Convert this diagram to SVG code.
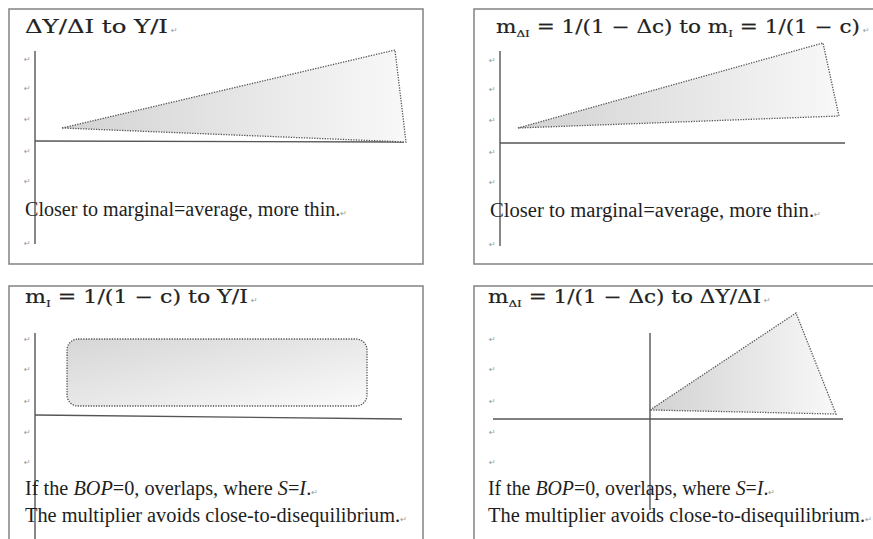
<svg xmlns="http://www.w3.org/2000/svg" width="873" height="539" viewBox="0 0 873 539">
<style>
.frame{fill:#fff;stroke:#8a8a8a;stroke-width:1.6}
.axis{stroke:#555;stroke-width:1.4;fill:none}
.shape{stroke:#555;stroke-width:1.3;stroke-dasharray:1.3 1.3}
.title{font-family:"DejaVu Serif","Liberation Serif",serif;font-size:18px;fill:#222;stroke:#222;stroke-width:0.2}
.sub{font-size:10px}
.body{font-family:"Liberation Serif",serif;font-size:20px;fill:#1e1e1e}
.ret{font-family:"DejaVu Sans",sans-serif;font-size:8px;fill:#999;stroke:none}
</style>
<defs>
<linearGradient id="g1" x1="0" y1="0" x2="1" y2="0">
<stop offset="0" stop-color="#d2d2d2"/>
<stop offset="1" stop-color="#f8f8f8"/>
</linearGradient>
<linearGradient id="g2" x1="0" y1="0" x2="1" y2="1">
<stop offset="0" stop-color="#d6d6d6"/>
<stop offset="1" stop-color="#fafafa"/>
</linearGradient>
</defs>
<rect width="873" height="539" fill="#fff"/>

<g id="panel1">
<rect class="frame" x="9" y="9" width="414" height="255"/>
<text class="title" x="25" y="33" textLength="143" lengthAdjust="spacingAndGlyphs">ΔY/ΔI to Y/I</text>
<text class="ret" x="171" y="33">↵</text>
<line class="axis" x1="35" y1="51" x2="35" y2="244"/>
<line class="axis" x1="35" y1="141" x2="404" y2="142"/>
<polygon class="shape" fill="url(#g1)" points="62,128 395,50 406,142"/>
<g class="ret"><text x="24" y="62">↵</text><text x="24" y="91">↵</text><text x="24" y="122">↵</text><text x="24" y="154">↵</text><text x="24" y="184">↵</text><text x="24" y="246">↵</text></g>
<text class="body" x="25" y="216" textLength="322" lengthAdjust="spacingAndGlyphs">Closer to marginal=average, more thin.<tspan class="ret">↵</tspan></text>
</g>

<g id="panel2">
<rect class="frame" x="474" y="9" width="410" height="255"/>
<text class="title" x="496" y="33" textLength="364" lengthAdjust="spacingAndGlyphs">m<tspan class="sub" dy="4">ΔI</tspan><tspan dy="-4"> = 1/(1 − Δc) to m</tspan><tspan class="sub" dy="4">I</tspan><tspan dy="-4"> = 1/(1 − c)</tspan></text>
<text class="ret" x="863" y="33">↵</text>
<line class="axis" x1="500" y1="51" x2="500" y2="246"/>
<line class="axis" x1="500" y1="143" x2="845" y2="143"/>
<polygon class="shape" fill="url(#g1)" points="518,128 823,43 839,116"/>
<g class="ret"><text x="489" y="63">↵</text><text x="489" y="92">↵</text><text x="489" y="123">↵</text><text x="489" y="155">↵</text><text x="489" y="185">↵</text><text x="489" y="247">↵</text></g>
<text class="body" x="490" y="217" textLength="331" lengthAdjust="spacingAndGlyphs">Closer to marginal=average, more thin.<tspan class="ret">↵</tspan></text>
</g>

<g id="panel3">
<rect class="frame" x="9" y="286" width="414" height="270"/>
<text class="title" x="25" y="303" textLength="223" lengthAdjust="spacingAndGlyphs">m<tspan class="sub" dy="4">I</tspan><tspan dy="-4"> = 1/(1 − c) to Y/I</tspan></text>
<text class="ret" x="251" y="303">↵</text>
<line class="axis" x1="35" y1="333" x2="35" y2="539"/>
<line class="axis" x1="35" y1="415" x2="402" y2="419"/>
<rect class="shape" fill="url(#g2)" x="67" y="339" width="300" height="67" rx="11"/>
<g class="ret"><text x="24" y="342">↵</text><text x="24" y="372">↵</text><text x="24" y="404">↵</text><text x="24" y="435">↵</text><text x="24" y="465">↵</text></g>
<text class="body" x="25" y="495" textLength="293" lengthAdjust="spacingAndGlyphs">If the <tspan font-style="italic">BOP</tspan>=0, overlaps, where <tspan font-style="italic">S</tspan>=<tspan font-style="italic">I</tspan>.<tspan class="ret">↵</tspan></text>
<text class="body" x="25" y="522" textLength="382" lengthAdjust="spacingAndGlyphs">The multiplier avoids close-to-disequilibrium.<tspan class="ret">↵</tspan></text>
</g>

<g id="panel4">
<rect class="frame" x="474" y="286" width="410" height="270"/>
<text class="title" x="488" y="303" textLength="273" lengthAdjust="spacingAndGlyphs">m<tspan class="sub" dy="4">ΔI</tspan><tspan dy="-4"> = 1/(1 − Δc) to ΔY/ΔI</tspan></text>
<text class="ret" x="764" y="303">↵</text>
<line class="axis" x1="650" y1="333" x2="650" y2="510"/>
<line class="axis" x1="493" y1="419" x2="843" y2="419"/>
<polygon class="shape" fill="url(#g1)" points="650,410 796,313 836,414"/>
<g class="ret"><text x="489" y="342">↵</text><text x="489" y="372">↵</text><text x="489" y="404">↵</text><text x="489" y="435">↵</text><text x="489" y="465">↵</text></g>
<text class="body" x="488" y="495" textLength="287" lengthAdjust="spacingAndGlyphs">If the <tspan font-style="italic">BOP</tspan>=0, overlaps, where <tspan font-style="italic">S</tspan>=<tspan font-style="italic">I</tspan>.<tspan class="ret">↵</tspan></text>
<text class="body" x="488" y="522" textLength="384" lengthAdjust="spacingAndGlyphs">The multiplier avoids close-to-disequilibrium.<tspan class="ret">↵</tspan></text>
</g>
</svg>
